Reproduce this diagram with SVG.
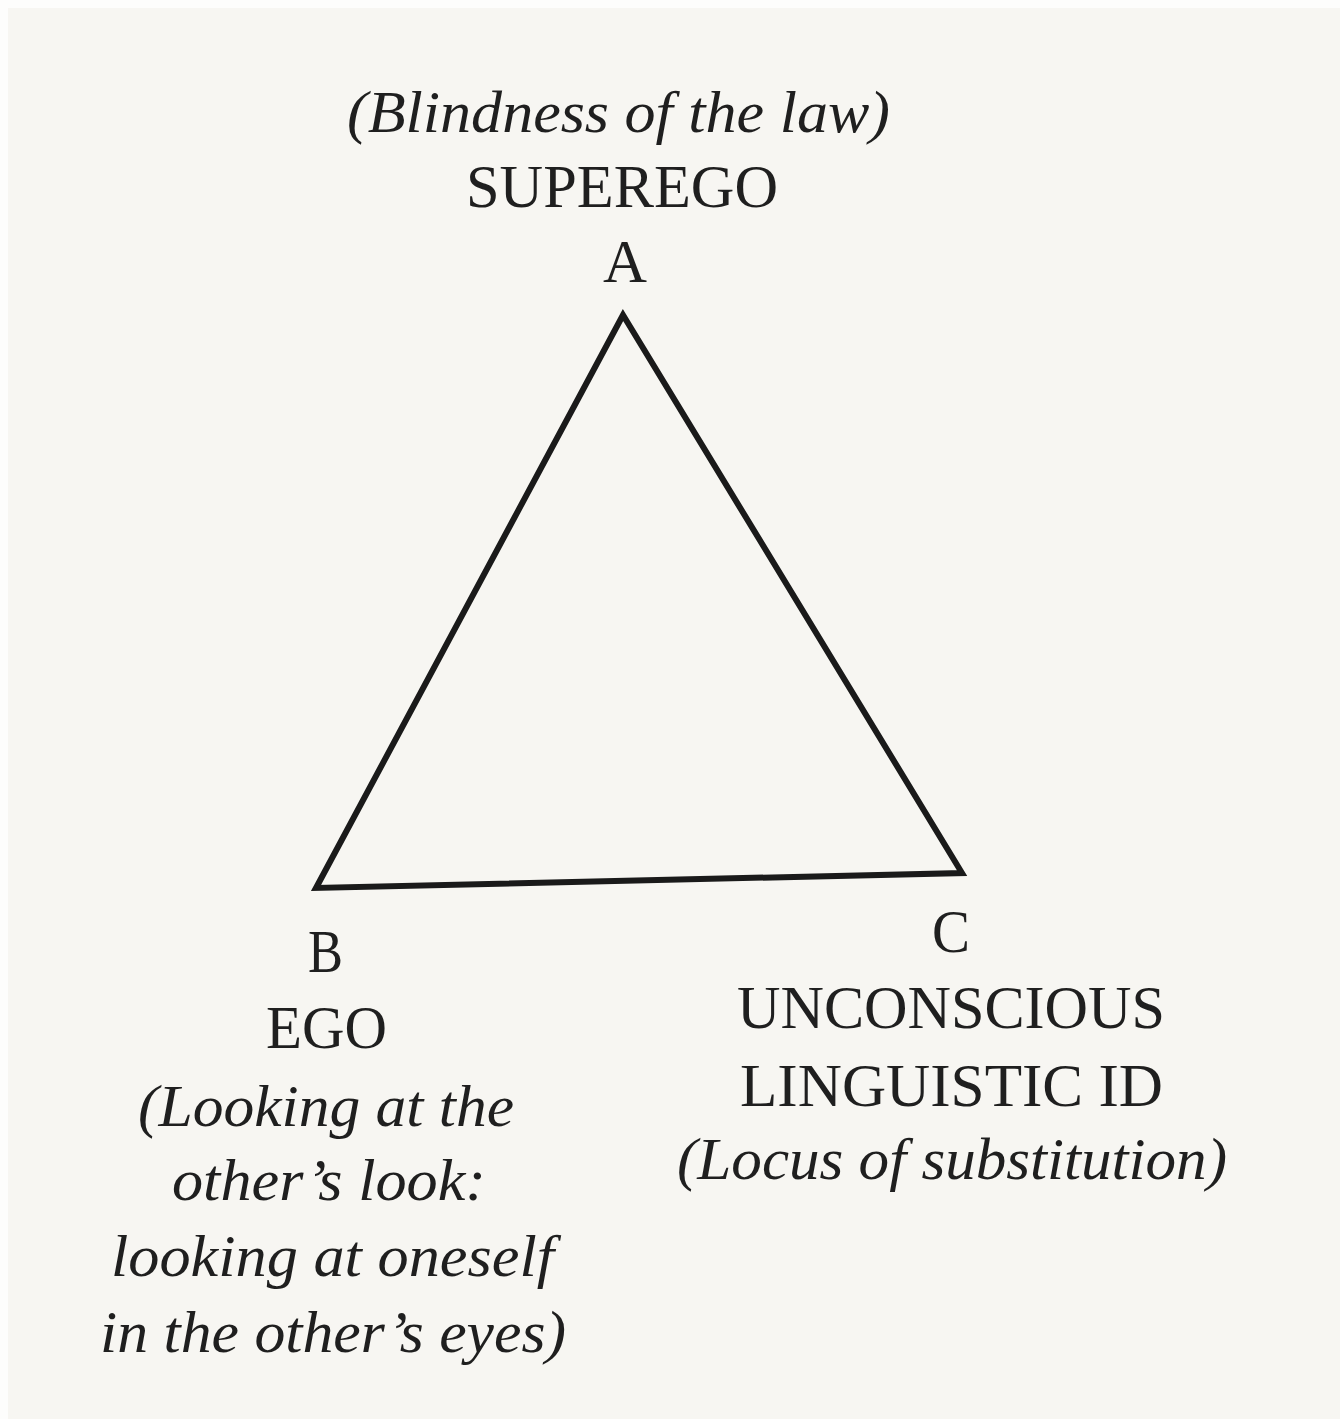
<svg xmlns="http://www.w3.org/2000/svg" width="1340" height="1419" viewBox="0 0 1340 1419">
<style>
.r{font-family:"Liberation Serif","Times New Roman",serif;font-size:62px;fill:#1f1f1f}
.i{font-family:"Liberation Serif","Times New Roman",serif;font-style:italic;font-size:59px;fill:#1f1f1f}
.e{fill:none;stroke:#1a1a1a;stroke-width:6;stroke-linejoin:miter;stroke-miterlimit:4}
</style>
<rect width="1340" height="1419" fill="#fdfdfc"/>
<rect x="8" y="8" width="1332" height="1411" fill="#f7f6f2"/>
<g id="connectors">
<polygon class="e" points="623,315 316,888 962,873"/>
</g>
<g id="nodeA">
<text class="i" x="347" y="132" textLength="543" lengthAdjust="spacingAndGlyphs">(Blindness of the law)</text>
<text class="r" x="466" y="207" textLength="312" lengthAdjust="spacingAndGlyphs">SUPEREGO</text>
<text class="r" x="603" y="282" textLength="44" lengthAdjust="spacingAndGlyphs">A</text>
</g>
<g id="nodeB">
<text class="r" x="308" y="972" textLength="35" lengthAdjust="spacingAndGlyphs">B</text>
<text class="r" x="266" y="1048" textLength="121" lengthAdjust="spacingAndGlyphs">EGO</text>
<text class="i" x="138" y="1126" textLength="376" lengthAdjust="spacingAndGlyphs">(Looking at the</text>
<text class="i" x="172" y="1200" textLength="314" lengthAdjust="spacingAndGlyphs">other’s look:</text>
<text class="i" x="111" y="1276" textLength="443" lengthAdjust="spacingAndGlyphs">looking at oneself</text>
<text class="i" x="100" y="1352" textLength="466" lengthAdjust="spacingAndGlyphs">in the other’s eyes)</text>
</g>
<g id="nodeC">
<text class="r" x="932" y="952" textLength="38" lengthAdjust="spacingAndGlyphs">C</text>
<text class="r" x="737" y="1028" textLength="428" lengthAdjust="spacingAndGlyphs">UNCONSCIOUS</text>
<text class="r" x="740" y="1106" textLength="423" lengthAdjust="spacingAndGlyphs">LINGUISTIC ID</text>
<text class="i" x="677" y="1179" textLength="550" lengthAdjust="spacingAndGlyphs">(Locus of substitution)</text>
</g>
</svg>
